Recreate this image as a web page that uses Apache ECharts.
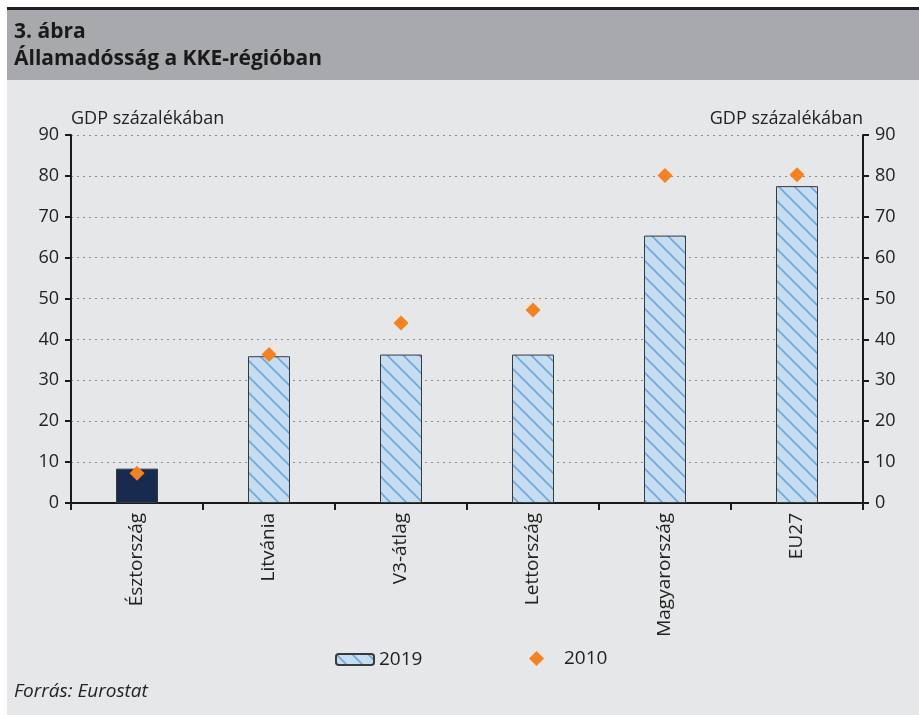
<!DOCTYPE html>
<html>
<head>
    <meta charset="utf-8">
    <title>Államadósság a KKE-régióban</title>
    <script src="https://cdn.jsdelivr.net/npm/echarts@6/dist/echarts.min.js"></script>
    <style>
        html, body { margin: 0; padding: 0; background: #fff; }
        #main { width: 919px; height: 715px; }
    </style>
</head>
<body>
<div id="main"></div>
<script type="text/javascript">
    // adatok
    var categories = ['Észtország', 'Litvánia', 'V3-átlag', 'Lettország', 'Magyarország', 'EU27'];
    var debt2019 = [8.4, 35.9, 36.3, 36.3, 65.4, 77.5];
    var debt2010 = [7.3, 36.3, 44.0, 47.2, 80.1, 80.3];
    var yTicks = [0, 90, 10]; // min, max, interval

    // csíkos minta a 2019-es oszlopokhoz
    function makeHatch() {
        var s = 16;
        var c = document.createElement('canvas');
        c.width = s; c.height = s;
        var ctx = c.getContext('2d');
        ctx.fillStyle = '#c6dcf1';
        ctx.fillRect(0, 0, s, s);
        ctx.strokeStyle = '#6ea7d9';
        ctx.lineWidth = 1.6;
        ctx.beginPath();
        ctx.moveTo(-2, -2); ctx.lineTo(s + 2, s + 2);
        ctx.moveTo(-2, s - 2); ctx.lineTo(2, s + 2);
        ctx.moveTo(s - 2, -2); ctx.lineTo(s + 2, 2);
        ctx.stroke();
        return c;
    }
    var hatch = { image: makeHatch(), repeat: 'repeat' };

    var barData = debt2019.map(function (v, i) {
        if (i === 0) {
            return { value: v, itemStyle: { color: '#172a50' } };
        }
        return v;
    });

    var font = '"Open Sans", "Noto Sans", sans-serif';
    var axisText = { color: '#222', fontSize: 18, fontFamily: font };

    var myChart = echarts.init(document.getElementById('main'));
    myChart.setOption({
        animation: false,
        backgroundColor: '#ffffff',
        graphic: [
            { type: 'rect', shape: { x: 7, y: 7, width: 912, height: 3 }, style: { fill: '#231f20' } },
            { type: 'rect', shape: { x: 7, y: 10, width: 912, height: 70 }, style: { fill: '#a7a9ac' } },
            { type: 'rect', shape: { x: 7, y: 80, width: 912, height: 635 }, style: { fill: '#e6e7e8' }, z: -10 },
            { type: 'text', left: 14, top: 22, style: { text: '3. ábra', fill: '#1a1a1a', font: 'bold 21px ' + font } },
            { type: 'text', left: 14, top: 49, style: { text: 'Államadósság a KKE-régióban', fill: '#1a1a1a', font: 'bold 21px ' + font } },
            { type: 'text', left: 14, top: 682, style: { text: 'Forrás: Eurostat', fill: '#222', font: 'italic 19px ' + font } }
        ],
        grid: { left: 71, right: 56, top: 135, bottom: 212 },
        legend: [
            {
                data: ['2019'], left: 330, top: 645,
                itemWidth: 38, itemHeight: 11,
                textStyle: { color: '#222', fontSize: 19, fontFamily: font }
            },
            {
                data: [{ name: '2010', icon: 'diamond' }], left: 524, top: 644,
                itemWidth: 15, itemHeight: 15,
                textStyle: { color: '#222', fontSize: 19, fontFamily: font, padding: [0, 0, 0, 15] }
            }
        ],
        xAxis: {
            type: 'category',
            data: categories,
            axisLine: { lineStyle: { color: '#1a1a1a', width: 2 } },
            axisTick: { show: true, alignWithLabel: false, length: 7, lineStyle: { color: '#1a1a1a', width: 2 } },
            axisLabel: Object.assign({ rotate: 90, margin: 10, interval: 0 }, axisText, { fontSize: 19 }),
            splitLine: { show: false }
        },
        yAxis: [
            {
                type: 'value', min: yTicks[0], max: yTicks[1], interval: yTicks[2],
                position: 'left',
                name: 'GDP százalékában', nameLocation: 'end', nameGap: 16,
                nameTextStyle: { color: '#222', fontSize: 18, fontFamily: font, align: 'left', verticalAlign: 'middle' },
                axisLine: { show: true, lineStyle: { color: '#1a1a1a', width: 2 } },
                axisTick: { show: true, length: 6, lineStyle: { color: '#1a1a1a', width: 2 } },
                axisLabel: Object.assign({ margin: 12 }, axisText),
                splitLine: { show: true, lineStyle: { color: '#8c8c8c', type: [2, 4], width: 1 } }
            },
            {
                type: 'value', min: yTicks[0], max: yTicks[1], interval: yTicks[2],
                position: 'right',
                name: 'GDP százalékában', nameLocation: 'end', nameGap: 16,
                nameTextStyle: { color: '#222', fontSize: 18, fontFamily: font, align: 'right', verticalAlign: 'middle' },
                axisLine: { show: true, lineStyle: { color: '#1a1a1a', width: 2 } },
                axisTick: { show: true, length: 6, lineStyle: { color: '#1a1a1a', width: 2 } },
                axisLabel: Object.assign({ margin: 12 }, axisText),
                splitLine: { show: false }
            }
        ],
        series: [
            {
                name: '2019', type: 'bar', yAxisIndex: 0,
                barWidth: 42,
                data: barData,
                itemStyle: { color: hatch, borderColor: '#3a3a3a', borderWidth: 1 }
            },
            {
                name: '2010', type: 'scatter', yAxisIndex: 0,
                symbol: 'diamond', symbolSize: 15,
                data: debt2010,
                itemStyle: { color: '#f5821f', opacity: 1 },
                z: 5
            }
        ]
    });
</script>
</body>
</html>
